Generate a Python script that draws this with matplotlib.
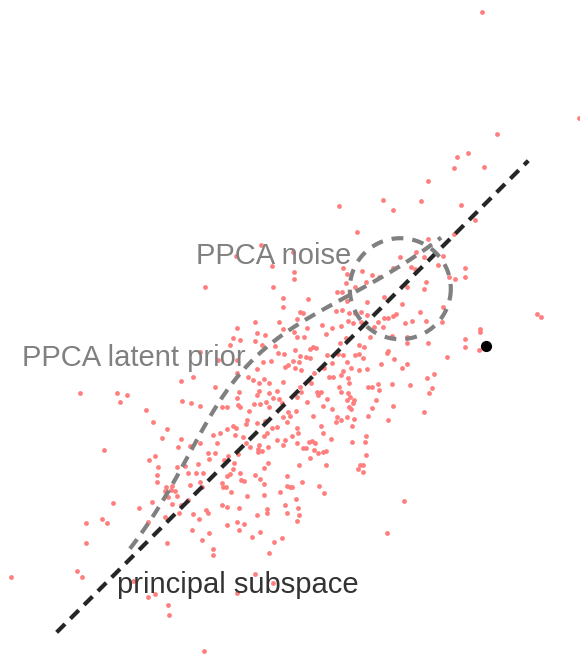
import numpy as np
import matplotlib
matplotlib.use("Agg")
import matplotlib.pyplot as plt

plt.rcParams['lines.scale_dashes'] = False

# ---- observed samples (arbitrary units, y axis pointing down) ----
samples = [
    # upper-left
    (261,245),(236,256),(272,266),(205,287),(273,287),(283,298),(283,307),(255,322),(279,322),(237,328),(283,329),
    # upper-right
    (482,12),(579,118),(497,134),(457,157),(468,153),(454,168),(484,167),(428,181),(339,206),(383,200),(393,210),
    (421,201),(461,205),(475,220),(357,232),(454,234),(428,239),(293,252),(400,257),(416,252),(424,257),(443,256),
    (438,265),(294,272),(294,279),(343,268),(362,271),(347,274),(372,275),(379,277),(393,268),(411,267),(415,269),
    (465,268),(465,277),(449,277),(455,279),(346,283),(366,282),(426,282),(407,287),(424,289),(355,287),(337,292),
    (342,292),(308,299),(347,301),(367,302),(384,297),(402,304),(443,307),(300,312),(303,313),(336,311),(342,310),
    (349,313),(355,313),(361,312),(367,315),(393,316),(396,314),(420,312),(297,319),(322,325),(332,328),(341,326),
    (348,321),(353,323),(361,322),(378,322),(384,318),(388,318),(405,323),(412,321),(426,321),(442,322),(537,314),
    (541,317),(307,328),(480,329),(374,327),(383,327),
    # lower-left
    (233,338),(240,340),(257,333),(265,335),(230,345),(255,341),(262,345),(275,346),
    (200,352),(218,360),(237,360),(263,362),(278,353),(284,354),(288,365),(285,367),(271,361),(257,369),(237,373),
    (248,377),(253,380),(259,383),(264,379),(269,383),(283,382),(277,391),(269,393),(259,391),(257,395),(239,392),
    (266,402),(273,398),(279,399),(260,404),(254,404),(237,398),(238,405),(249,411),(247,420),(246,424),(236,428),
    (257,423),(265,421),(267,433),(272,428),(277,427),(287,422),(283,417),(290,416),(264,436),(277,440),(285,440),
    (259,445),(250,447),(235,435),(243,437),(246,443),(227,429),(233,426),(220,433),(213,435),(217,443),(200,443),
    (190,446),(181,439),(178,447),(162,438),(167,429),(153,422),(146,410),(127,395),(120,402),(80,393),(117,393),
    (182,401),(191,403),(200,406),(181,381),(193,377),(215,387),(222,407),(227,407),(240,407),(269,407),(282,403),
    (288,412),(283,445),(258,449),(268,447),
    (104,450),(149,460),(155,456),(158,467),(157,475),(157,482),(177,467),(185,466),(188,473),(196,473),(203,473),
    (190,485),(200,482),(202,487),(198,464),(208,453),(215,453),(209,459),(224,460),(228,456),(234,463),(238,454),
    (233,469),(230,474),(227,476),(240,473),(241,480),(244,481),(222,483),(223,487),(226,487),(231,492),(247,496),
    (255,475),(260,479),(264,484),(264,468),(268,463),(258,452),(262,451),(287,476),(287,486),(290,487),(280,492),
    (264,495),(166,487),(172,486),(171,490),(165,491),(175,491),(177,496),(168,497),(152,502),(113,503),(139,508),
    (172,504),(181,505),(188,500),(179,513),(193,514),(199,519),(206,510),(208,513),(222,505),(227,507),(239,508),
    (257,515),(267,513),(267,509),(285,505),(287,513),(102,519),(107,523),(86,523),(148,522),(165,517),(192,530),
    (202,540),(209,533),(227,525),(237,522),(239,530),(244,524),(252,537),(260,532),(167,543),(86,543),(213,549),
    (213,555),(274,542),(282,538),(269,553),(77,571),(82,577),(11,577),(133,581),(255,574),(273,583),(148,597),
    (155,594),(237,593),(168,605),(169,615),(204,651),
    # lower-right
    (294,332),(297,337),(304,337),(326,334),(340,343),(346,338),(359,345),(364,347),(370,337),(392,336),(407,337),
    (407,343),(428,343),(465,339),(465,347),(479,350),(480,332),
    (295,350),(310,349),(313,347),(316,348),(300,356),(306,357),(293,361),(299,362),(295,368),(301,370),(310,358),
    (327,355),(332,363),(338,354),(343,355),(347,362),(355,355),(359,354),(363,358),(387,353),(388,351),(394,359),
    (381,364),(402,368),(407,364),(447,357),(351,368),(359,370),(367,369),(343,371),(341,375),(329,377),(333,377),
    (314,373),(311,383),(300,387),(297,397),(301,392),(324,368),(348,378),(349,383),(339,387),(341,392),(348,393),
    (350,397),(347,400),(354,400),(353,403),(317,392),(321,392),(318,395),(327,399),(323,406),(332,409),(307,402),
    (296,411),(313,416),(349,407),(351,409),(337,417),(336,422),(341,420),(347,417),(354,419),(352,426),(321,426),
    (297,428),(298,433),(292,436),(323,433),(331,439),(352,442),(366,436),(365,442),(366,455),(368,387),(372,387),
    (378,384),(379,390),(392,384),(410,385),(427,378),(434,374),(432,388),(429,393),(376,400),(372,408),(368,416),
    (393,406),(388,420),(424,412),(297,443),(303,448),(306,448),(309,442),(312,441),(315,443),(314,450),(318,453),
    (323,452),(326,451),(310,458),(299,465),(326,465),(360,465),(363,465),(358,469),(363,472),(292,487),(302,482),
    (319,486),(324,493),(296,499),(298,508),(299,515),(297,521),(404,501),(387,533),
]
sample_x = [p[0] for p in samples]
sample_y = [p[1] for p in samples]

# highlighted observation
obs_x, obs_y = 486, 346

# PPCA model parameters (same units)
mean = (290.7, 398.3)          # data mean / prior centre on subspace
direction = (1.0, -1.0)        # principal direction
latent_sd = 110.0              # std of latent prior along subspace
prior_height = 54.0            # drawn height of prior density curve
subspace_range = (-331.0, 336.0)
noise_centre_t = 155.0         # position of W z along subspace
noise_sd = 50.5                # isotropic noise radius

labels = ["PPCA noise", "PPCA latent prior", "principal subspace"]
label_pos = [(196, 264), (22, 366), (117, 593)]
label_colors = ["#808080", "#808080", "#333333"]

fig = plt.figure(figsize=(5.8, 6.56), dpi=100)
ax = fig.add_axes([0, 0, 1, 1])
ax.set_xlim(0, 580)
ax.set_ylim(656, 0)
ax.axis('off')

ax.scatter(sample_x, sample_y, s=12, color='#ff7f7f', linewidths=0, zorder=1)

u = np.array(direction) / np.linalg.norm(direction)
n = np.array([-u[1], u[0]])
if n[1] > 0:
    n = -n
m = np.array(mean)

# principal subspace
t = np.array(subspace_range)
ln = m[None, :] + t[:, None] * u[None, :]
ax.plot(ln[:, 0], ln[:, 1], color='#262626', lw=3.0, dashes=(8.5, 5.5),
        dash_capstyle='butt', zorder=3)

# latent prior curve
tt = np.linspace(-2 * latent_sd, 2 * latent_sd, 300)
h = prior_height * np.exp(-0.5 * (tt / latent_sd) ** 2)
cv = m[None, :] + tt[:, None] * u[None, :] + h[:, None] * n[None, :]
ax.plot(cv[:, 0], cv[:, 1], color='#808080', lw=3.0, dashes=(8.5, 5.5),
        dash_capstyle='butt', zorder=3)

# noise circle
c = m + noise_centre_t * u
ang = np.linspace(0, 2 * np.pi, 300)
ax.plot(c[0] + noise_sd * np.cos(ang), c[1] + noise_sd * np.sin(ang),
        color='#808080', lw=3.0, dashes=(8.5, 6.5), dash_capstyle='butt', zorder=3)

ax.scatter([obs_x], [obs_y], s=65, color='black', linewidths=0, zorder=4)

for lab, (lx, ly), col in zip(labels, label_pos, label_colors):
    ax.text(lx, ly, lab, color=col, fontsize=21, family='Liberation Sans',
            ha='left', va='baseline', zorder=5)

fig.savefig('out.png', dpi=100)
